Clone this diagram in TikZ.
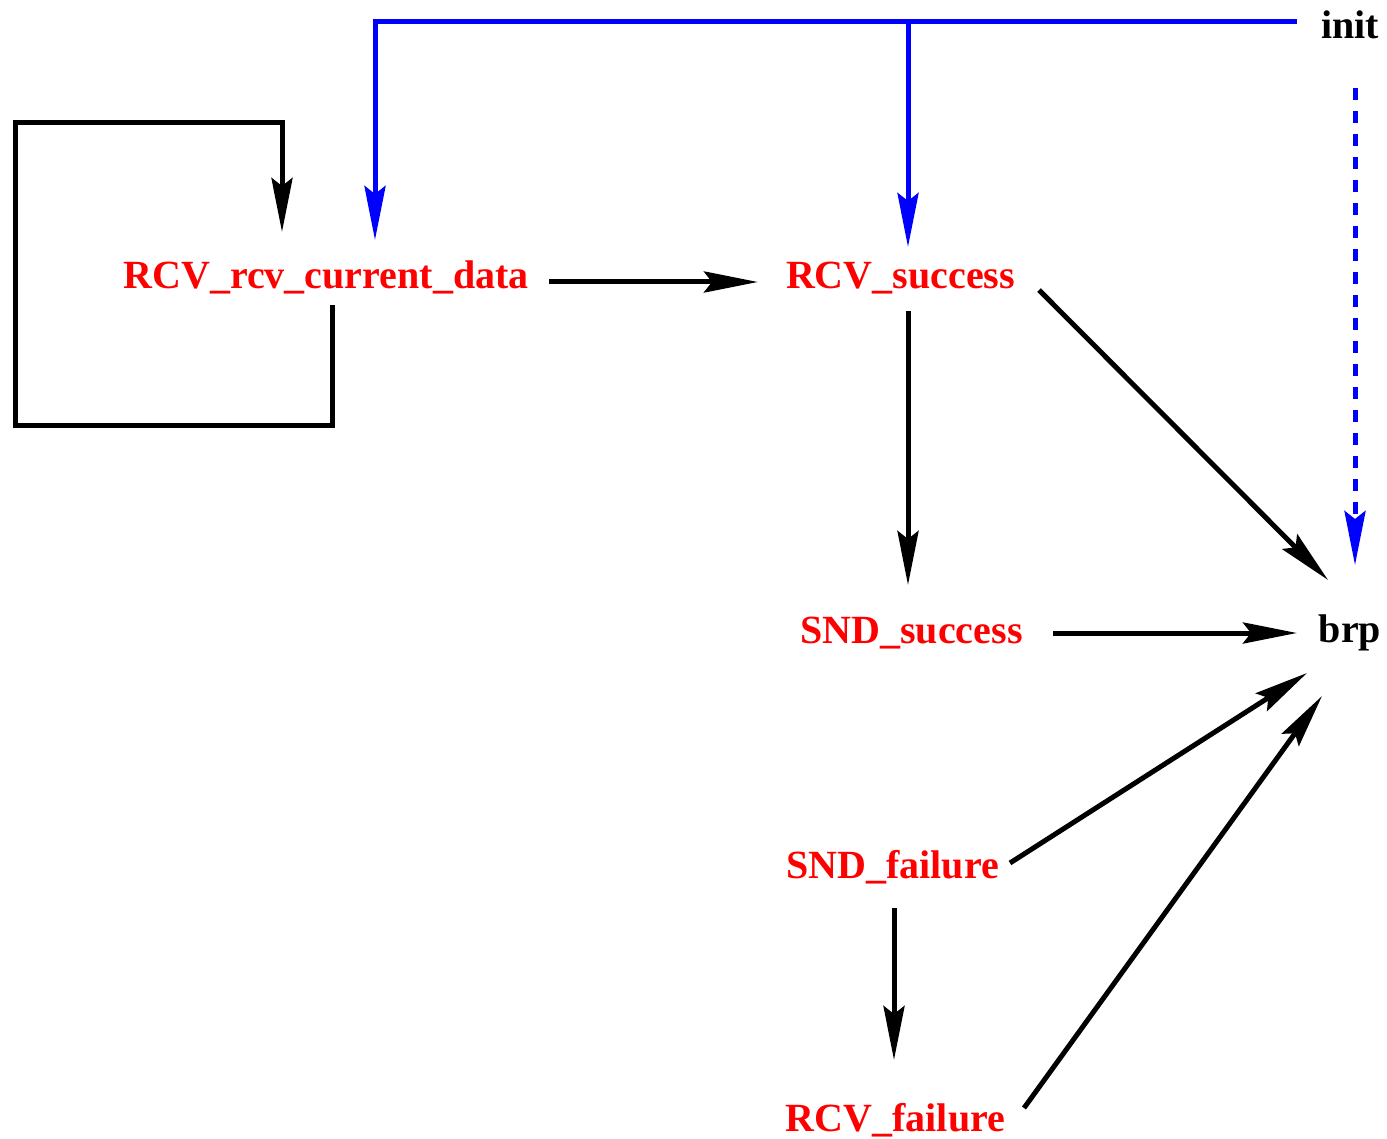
\documentclass[tikz,border=0pt]{standalone}
\usepackage{fontspec}
\setmainfont{Liberation Serif}
\usetikzlibrary{arrows.meta,calc}

\begin{document}
\begin{tikzpicture}[
      x=0.5pt, y=-0.5pt,
      font=\fontsize{20}{24}\selectfont\bfseries,
      estado/.style={text=red, inner sep=0pt, outer sep=0pt, anchor=base},
      rotulo/.style={text=black, inner sep=0pt, outer sep=0pt, anchor=base},
      seta/.style={-{Stealth[length=27pt, width=10.5pt, inset=4pt]}, line width=2.5pt, black, line join=miter},
      azul/.style={-{Stealth[length=27pt, width=10.5pt, inset=4pt]}, line width=2.5pt, blue, line join=miter},
      tracejado/.style={azul, dash pattern=on 6pt off 5.5pt}
    ]
    \useasboundingbox (0,0) rectangle (1387,1139);

    \node[rotulo] (init) at (1350,39) {init};
    \node[estado] (rcvdata) at (326,289) {RCV\_rcv\_current\_data};
    \node[estado] (rcvsucc) at (900.5,289) {RCV\_success};
    \node[estado] (sndsucc) at (911.5,643) {SND\_success};
    \node[rotulo] (brp) at (1350,642) {brp};
    \node[estado] (sndfail) at (892.5,878) {SND\_failure};
    \node[estado] (rcvfail) at (895.5,1131) {RCV\_failure};

    % ramos iniciais
    \draw[azul] ([shift={(-53,-17)}]init.base) -| ([shift={(49,-49)}]rcvdata.base);
    \draw[azul] ([shift={(-53,-17)}]init.base) -| ([shift={(7.5,-42)}]rcvsucc.base);
    \draw[tracejado] ([shift={(5,49)}]init.base) -- ([shift={(5,-77)}]brp.base);

    % laço
    \draw[seta] ([shift={(6,16)}]rcvdata.base) -- ++(0,120) -- ++(-317,0)
      |- ([shift={(-44,-166)}]rcvdata.base) -- ([shift={(-44,-57)}]rcvdata.base);

    \draw[seta] ([shift={(223,-7)}]rcvdata.base) -- ([shift={(-142.5,-7)}]rcvsucc.base);
    \draw[seta] ([shift={(7.5,22)}]rcvsucc.base) -- ([shift={(-3.5,-58)}]sndsucc.base);
    \draw[seta] ([shift={(138.5,1)}]rcvsucc.base) -- ([shift={(-22,-62)}]brp.base);
    \draw[seta] ([shift={(141.5,-10)}]sndsucc.base) -- ([shift={(-53,-9)}]brp.base);
    \draw[seta] ([shift={(117.5,-15)}]sndfail.base) -- ([shift={(-43,31)}]brp.base);
    \draw[seta] ([shift={(1.5,30)}]sndfail.base) -- ([shift={(-1.5,-71)}]rcvfail.base);
    \draw[seta] ([shift={(128.5,-23)}]rcvfail.base) -- ([shift={(-28,54)}]brp.base);
  \end{tikzpicture}
\end{document}
